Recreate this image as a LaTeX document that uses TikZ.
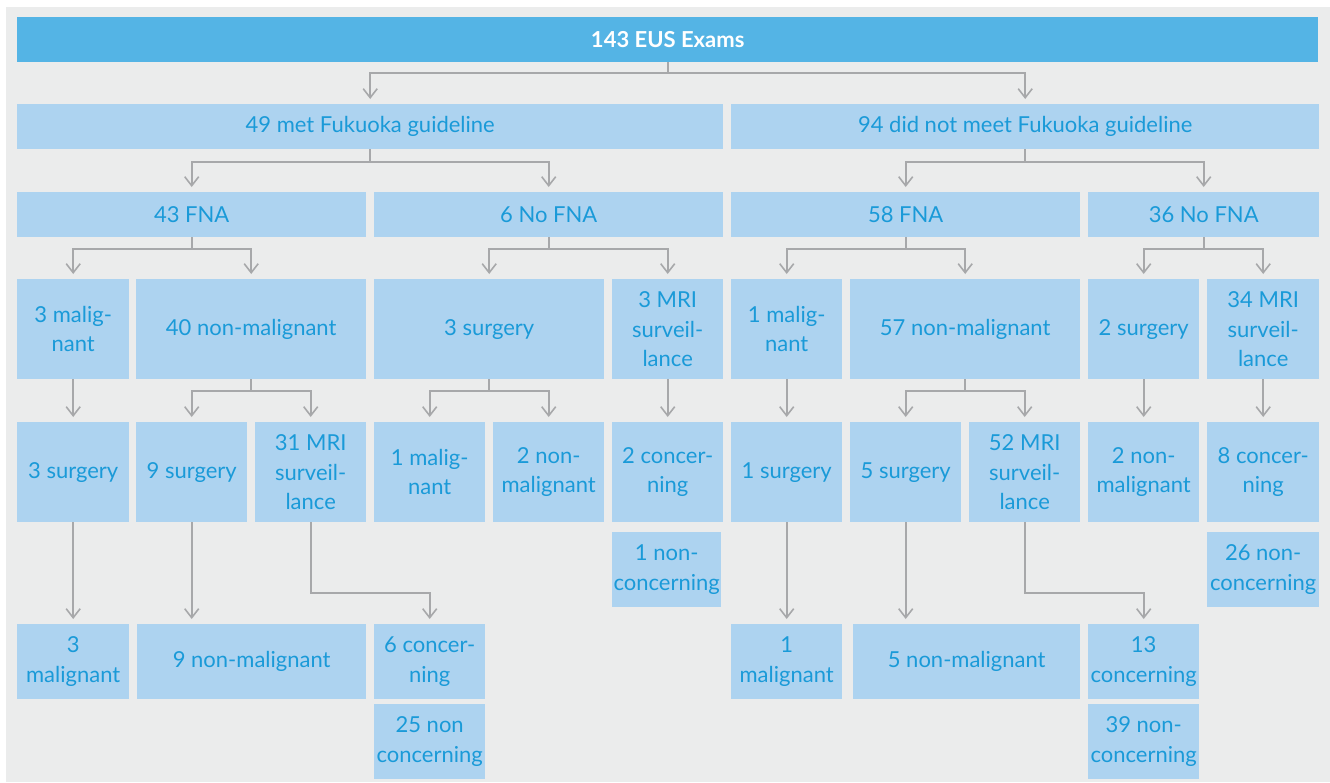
\documentclass[tikz,border=0pt]{standalone}
\usepackage{fontspec}
\setmainfont{Lato}
\usetikzlibrary{arrows.meta,calc}
\definecolor{bg}{HTML}{EBECEC}
\definecolor{topblue}{HTML}{54B4E5}
\definecolor{lightblue}{HTML}{ADD3F0}
\definecolor{txtblue}{HTML}{1A9AD8}
\definecolor{linegray}{HTML}{A7A8AA}
\tikzset{
  box/.style={anchor=north west, fill=lightblue, text=txtblue, inner sep=0pt, align=center,
    font=\fontsize{22}{29.5}\selectfont},
  topbox/.style={box, fill=topblue, text=white, font=\fontsize{22}{29.5}\selectfont\bfseries},
  conn/.style={draw=linegray, line width=2pt, -{Straight Barb[length=9pt,width=14pt,line width=1.6pt]}, shorten >=5pt}
}
\begin{document}
\begin{tikzpicture}[x=1pt,y=-1pt]
\useasboundingbox (0,0) rectangle (1330,782);
\fill[white] (0,0) rectangle (1330,782);
\fill[bg] (6,7) rectangle (1330,782);
% level 1
\node[topbox, minimum width=1301pt, minimum height=45pt] (exams) at (17,17) {143 EUS Exams};
% level 2
\node[box, minimum width=706pt, minimum height=45pt] (met) at (17,104) {49 met Fukuoka guideline};
\node[box, minimum width=588pt, minimum height=45pt] (notmet) at (731,104) {94 did not meet Fukuoka guideline};
% level 3
\node[box, minimum width=349pt, minimum height=45pt] (fnaA) at (17,192) {43 FNA};
\node[box, minimum width=349pt, minimum height=45pt] (nofnaA) at (374,192) {6 No FNA};
\node[box, minimum width=349pt, minimum height=45pt] (fnaB) at (731,192) {58 FNA};
\node[box, minimum width=231pt, minimum height=45pt] (nofnaB) at (1088,192) {36 No FNA};
% level 4
\node[box, minimum width=112pt, minimum height=100pt] (malA) at (17,279) {3 malig-\\nant};
\node[box, minimum width=230pt, minimum height=100pt] (nonmalA) at (136,279) {40 non-malignant};
\node[box, minimum width=230pt, minimum height=100pt] (surgA) at (374,279) {3 surgery};
\node[box, minimum width=111pt, minimum height=100pt] (mriA) at (612,279) {3 MRI\\surveil-\\lance};
\node[box, minimum width=111pt, minimum height=100pt] (malB) at (731,279) {1 malig-\\nant};
\node[box, minimum width=230pt, minimum height=100pt] (nonmalB) at (850,279) {57 non-malignant};
\node[box, minimum width=111pt, minimum height=100pt] (surgB) at (1088,279) {2 surgery};
\node[box, minimum width=112pt, minimum height=100pt] (mriB) at (1207,279) {34 MRI\\surveil-\\lance};
% level 5
\node[box, minimum width=112pt, minimum height=100pt] (s3) at (17,422) {3 surgery};
\node[box, minimum width=111pt, minimum height=100pt] (s9) at (136,422) {9 surgery};
\node[box, minimum width=111pt, minimum height=100pt] (m31) at (255,422) {31 MRI\\surveil-\\lance};
\node[box, minimum width=111pt, minimum height=100pt] (mal1) at (374,422) {1 malig-\\nant};
\node[box, minimum width=111pt, minimum height=100pt] (non2) at (493,422) {2 non-\\malignant};
\node[box, minimum width=111pt, minimum height=100pt] (conc2) at (612,422) {2 concer-\\ning};
\node[box, minimum width=111pt, minimum height=100pt] (s1) at (731,422) {1 surgery};
\node[box, minimum width=111pt, minimum height=100pt] (s5) at (850,422) {5 surgery};
\node[box, minimum width=111pt, minimum height=100pt] (m52) at (969,422) {52 MRI\\surveil-\\lance};
\node[box, minimum width=111pt, minimum height=100pt] (non2b) at (1088,422) {2 non-\\malignant};
\node[box, minimum width=112pt, minimum height=100pt] (conc8) at (1207,422) {8 concer-\\ning};
% level 5b
\node[box, minimum width=109pt, minimum height=75pt] (nonc1) at (612,532) {1 non-\\concerning};
\node[box, minimum width=112pt, minimum height=75pt] (nonc26) at (1207,532) {26 non-\\concerning};
% level 6
\node[box, minimum width=112pt, minimum height=75pt] (mal3) at (17,624) {3\\malignant};
\node[box, minimum width=229pt, minimum height=75pt] (non9) at (137,624) {9 non-malignant};
\node[box, minimum width=111pt, minimum height=75pt] (conc6) at (374,624) {6 concer-\\ning};
\node[box, minimum width=111pt, minimum height=75pt] (mal1b) at (731,624) {1\\malignant};
\node[box, minimum width=227pt, minimum height=75pt] (non5) at (853,624) {5 non-malignant};
\node[box, minimum width=111pt, minimum height=75pt] (conc13) at (1088,624) {13\\concerning};
% level 6b
\node[box, minimum width=111pt, minimum height=75pt] (nonc25) at (374,704) {25 non\\concerning};
\node[box, minimum width=111pt, minimum height=75pt] (nonc39) at (1088,704) {39 non-\\concerning};
% connectors level 1 -> 2
\draw[conn] (exams.south) -- ++(0,11) -| (met.north);
\draw[conn] (exams.south) -- ++(0,11) -| (notmet.north);
% level 2 -> 3
\draw[conn] (met.south) -- ++(0,13) -| (fnaA.north);
\draw[conn] (met.south) -- ++(0,13) -| (nofnaA.north);
\draw[conn] (notmet.south) -- ++(0,13) -| (fnaB.north);
\draw[conn] (notmet.south) -- ++(0,13) -| (nofnaB.north);
% level 3 -> 4
\draw[conn] (fnaA.south) -- ++(0,12) -| (malA.north);
\draw[conn] (fnaA.south) -- ++(0,12) -| (nonmalA.north);
\draw[conn] (nofnaA.south) -- ++(0,12) -| (surgA.north);
\draw[conn] (nofnaA.south) -- ++(0,12) -| (mriA.north);
\draw[conn] (fnaB.south) -- ++(0,12) -| (malB.north);
\draw[conn] (fnaB.south) -- ++(0,12) -| (nonmalB.north);
\draw[conn] (nofnaB.south) -- ++(0,12) -| (surgB.north);
\draw[conn] (nofnaB.south) -- ++(0,12) -| (mriB.north);
% level 4 -> 5
\draw[conn] (malA.south) -- (s3.north);
\draw[conn] (nonmalA.south) -- ++(0,12) -| (s9.north);
\draw[conn] (nonmalA.south) -- ++(0,12) -| (m31.north);
\draw[conn] (surgA.south) -- ++(0,12) -| (mal1.north);
\draw[conn] (surgA.south) -- ++(0,12) -| (non2.north);
\draw[conn] (mriA.south) -- (conc2.north);
\draw[conn] (malB.south) -- (s1.north);
\draw[conn] (nonmalB.south) -- ++(0,12) -| (s5.north);
\draw[conn] (nonmalB.south) -- ++(0,12) -| (m52.north);
\draw[conn] (surgB.south) -- (non2b.north);
\draw[conn] (mriB.south) -- (conc8.north);
% level 5 -> 6
\draw[conn] (s3.south) -- (mal3.north);
\draw[conn] (s9.south) -- (s9.south |- non9.north);
\draw[conn] (m31.south) -- ++(0,71) -| (conc6.north);
\draw[conn] (s1.south) -- (mal1b.north);
\draw[conn] (s5.south) -- (s5.south |- non5.north);
\draw[conn] (m52.south) -- ++(0,71) -| (conc13.north);
\end{tikzpicture}
\end{document}
